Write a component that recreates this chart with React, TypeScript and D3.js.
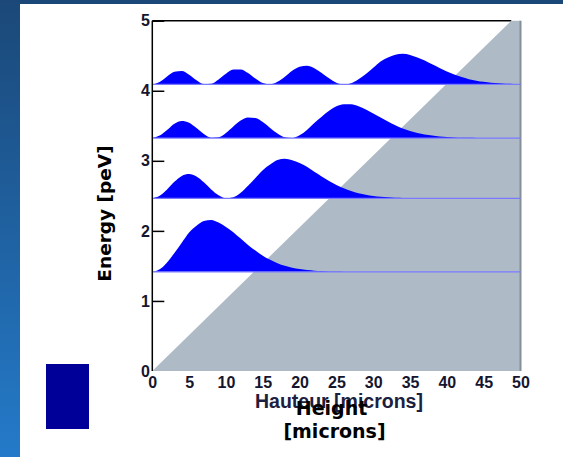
import { useEffect, useRef } from 'react';
import * as d3 from 'd3';

// energy levels of the bound states (peV)
const levels = [1.415, 2.465, 3.325, 4.09];

// probability density, one value per micron from z = 0
const density1 = [0, 0.036, 0.135, 0.27, 0.417, 0.563, 0.659, 0.726, 0.742, 0.704, 0.642, 0.566, 0.475, 0.385, 0.304, 0.231, 0.172, 0.124, 0.087, 0.06, 0.04, 0.026, 0.017, 0.011, 0.0065, 0.004, 0.0025, 0];
const density2 = [0, 0.035, 0.125, 0.235, 0.318, 0.346, 0.31, 0.228, 0.127, 0.044, 0.002, 0.015, 0.079, 0.179, 0.29, 0.402, 0.482, 0.545, 0.565, 0.543, 0.504, 0.45, 0.379, 0.312, 0.247, 0.19, 0.143, 0.103, 0.073, 0.051, 0.034, 0.023, 0.015, 0.009, 0.006, 0.0035, 0.002, 0];
const density3 = [0, 0.035, 0.115, 0.205, 0.245, 0.219, 0.143, 0.058, 0.005, 0.011, 0.072, 0.165, 0.249, 0.295, 0.285, 0.228, 0.144, 0.064, 0.011, 0.0025, 0.041, 0.116, 0.216, 0.305, 0.39, 0.454, 0.484, 0.482, 0.455, 0.406, 0.351, 0.295, 0.236, 0.183, 0.138, 0.102, 0.073, 0.051, 0.035, 0.023, 0.015, 0.0095, 0.006, 0.0037, 0.002, 0];
const density4 = [0, 0.034, 0.113, 0.181, 0.192, 0.14, 0.061, 0.006, 0.011, 0.072, 0.154, 0.213, 0.215, 0.163, 0.084, 0.02, 0.001, 0.037, 0.111, 0.195, 0.254, 0.267, 0.232, 0.165, 0.088, 0.026, 0, 0.017, 0.073, 0.15, 0.239, 0.329, 0.385, 0.423, 0.439, 0.422, 0.385, 0.342, 0.287, 0.235, 0.185, 0.141, 0.105, 0.076, 0.054, 0.037, 0.025, 0.016, 0.011, 0.007, 0.004];
const densities = [density1, density2, density3, density4];

// gravitational potential region (shaded)
const potentialZ = [0, 48.75, 50, 50];
const potentialE = [0, 5, 5, 0];

const xTicks = [0, 5, 10, 15, 20, 25, 30, 35, 40, 45, 50];
const yTicks = [0, 1, 2, 3, 4, 5];

const W = 563;
const H = 457;

const App = () => {
    const svgRef = useRef(null);

    useEffect(() => {
        const svg = d3.select(svgRef.current);
        svg.selectAll('*').remove();

        const x = d3.scaleLinear().domain([0, 50]).range([152.3, 520.5]);
        const y = d3.scaleLinear().domain([0, 5]).range([371, 20.7]);

        // slide background
        const defs = svg.append('defs');
        const grad = defs.append('linearGradient')
            .attr('id', 'strip').attr('x1', 0).attr('y1', 0).attr('x2', 0).attr('y2', 1);
        grad.append('stop').attr('offset', '0%').attr('stop-color', '#1b4878');
        grad.append('stop').attr('offset', '100%').attr('stop-color', '#247ac9');

        svg.append('rect').attr('width', W).attr('height', H).attr('fill', '#1b4878');
        svg.append('rect').attr('x', 0).attr('y', 0).attr('width', 20).attr('height', H).attr('fill', 'url(#strip)');
        svg.append('rect').attr('x', 20).attr('y', 4).attr('width', W - 20).attr('height', H - 4).attr('fill', '#ffffff');
        svg.append('rect').attr('x', 46).attr('y', 364).attr('width', 43).attr('height', 65).attr('fill', '#000098');

        // y axis with inward ticks
        const yAxis = d3.axisLeft(y).tickValues(yTicks).tickSize(-12).tickPadding(2.5).tickFormat(d3.format('d'));
        const gy = svg.append('g').attr('transform', `translate(${x(0)},0)`).call(yAxis);
        gy.select('.domain').remove();
        gy.selectAll('line').attr('stroke', '#000').attr('stroke-width', 1.5);
        gy.selectAll('.tick').filter(d => d === 0).select('line').remove();
        gy.selectAll('text')
            .attr('font-family', '"Liberation Sans", Arial, sans-serif')
            .attr('font-weight', 'bold')
            .attr('font-size', 16)
            .attr('fill', '#15162e');

        // top frame line
        svg.append('line')
            .attr('x1', x(0)).attr('x2', x(48.75)).attr('y1', y(5)).attr('y2', y(5))
            .attr('stroke', '#000').attr('stroke-width', 1.5);

        // potential region
        const pts = potentialZ.map((z, i) => [x(z), y(potentialE[i])]);
        svg.append('path')
            .attr('d', d3.line()(pts) + 'Z')
            .attr('fill', '#aebbc6');
        svg.append('line')
            .attr('x1', x(50)).attr('x2', x(50)).attr('y1', y(5)).attr('y2', y(0))
            .attr('stroke', '#858f98').attr('stroke-width', 2);

        // wavefunctions
        densities.forEach((dens, k) => {
            const E = levels[k];
            const area = d3.area()
                .x((d, i) => x(i))
                .y0(y(E))
                .y1(d => y(E + d))
                .curve(d3.curveMonotoneX);
            svg.append('path').datum(dens).attr('d', area).attr('fill', '#0000ff');
            svg.append('line')
                .attr('x1', x(0)).attr('x2', x(50)).attr('y1', y(E)).attr('y2', y(E))
                .attr('stroke', '#7a7aff').attr('stroke-width', 1.2);
        });

        // left axis line
        svg.append('line')
            .attr('x1', x(0)).attr('x2', x(0)).attr('y1', y(5)).attr('y2', y(0))
            .attr('stroke', '#000').attr('stroke-width', 1.5);

        // x axis labels only
        const xAxis = d3.axisBottom(x).tickValues(xTicks).tickSize(0).tickPadding(6).tickFormat(d3.format('d'));
        const gx = svg.append('g').attr('transform', `translate(0,${y(0)})`).call(xAxis);
        gx.select('.domain').remove();
        gx.selectAll('text')
            .attr('font-family', '"Liberation Sans", Arial, sans-serif')
            .attr('font-weight', 'bold')
            .attr('font-size', 16)
            .attr('fill', '#15162e');

        // titles (the French and English x titles overlap in the original slide)
        svg.append('text')
            .attr('x', 339).attr('y', 408)
            .attr('text-anchor', 'middle')
            .attr('font-family', '"Liberation Sans", Arial, sans-serif')
            .attr('font-weight', 'bold')
            .attr('font-size', 19.5)
            .attr('fill', '#1c2040')
            .text('Hauteur [microns]');

        svg.append('text')
            .attr('x', 331.5).attr('y', 415)
            .attr('text-anchor', 'middle')
            .attr('font-family', '"DejaVu Sans", sans-serif')
            .attr('font-weight', 'bold')
            .attr('font-size', 19)
            .attr('fill', '#000')
            .text('Height');

        svg.append('text')
            .attr('x', 334.5).attr('y', 438)
            .attr('text-anchor', 'middle')
            .attr('font-family', '"DejaVu Sans", sans-serif')
            .attr('font-weight', 'bold')
            .attr('font-size', 19)
            .attr('fill', '#000')
            .text('[microns]');

        svg.append('text')
            .attr('transform', 'translate(111,213.5) rotate(-90)')
            .attr('text-anchor', 'middle')
            .attr('font-family', '"DejaVu Sans", sans-serif')
            .attr('font-weight', 'bold')
            .attr('font-size', 18.5)
            .attr('fill', '#000')
            .text('Energy [peV]');
    }, []);

    return (
        <svg
            ref={svgRef}
            width={W}
            height={H}
            style={{ position: 'absolute', left: 0, top: 0, display: 'block' }}
        />
    );
};

export default App;
